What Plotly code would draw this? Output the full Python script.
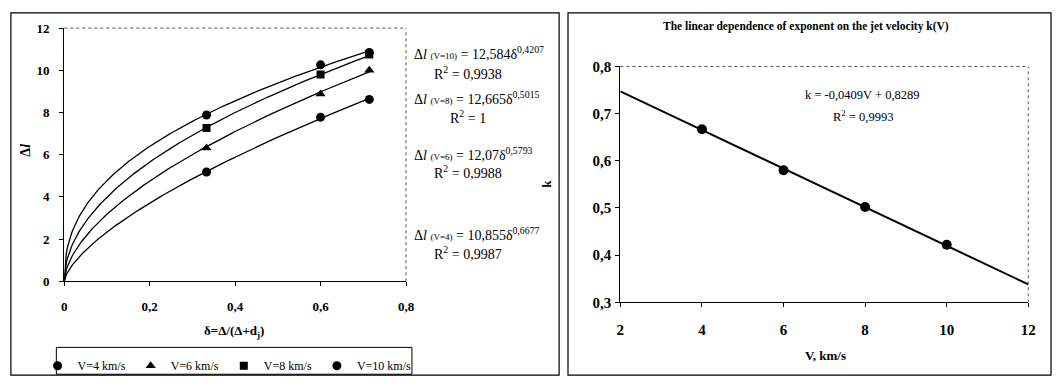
import numpy as np
import plotly.graph_objects as go

# ---------------- data ----------------
delta = [0.333, 0.6, 0.714]
dl_v4 = [5.18, 7.78, 8.62]
dl_v6 = [6.32, 8.88, 10.0]
dl_v8 = [7.27, 9.8, 10.75]
dl_v10 = [7.88, 10.26, 10.85]
series_names = ["V=4 km/s", "V=6 km/s", "V=8 km/s", "V=10 km/s"]
series_symbols = ["circle", "triangle-up", "square", "circle"]
fit_coef = [10.855, 12.07, 12.665, 12.584]
fit_exp = [0.6677, 0.5793, 0.5015, 0.4207]
fit_r2 = ["0,9987", "0,9988", "1", "0,9938"]
fit_labels = ["V=4", "V=6", "V=8", "V=10"]

velocity = [4, 6, 8, 10]
k_values = [0.667, 0.58, 0.502, 0.422]
k_slope = -0.0409
k_intercept = 0.8289
k_r2 = "0,9993"
v_range = [2, 12]

left_xticks = [0, 0.2, 0.4, 0.6, 0.8]
left_yticks = [0, 2, 4, 6, 8, 10, 12]
right_xticks = [2, 4, 6, 8, 10, 12]
right_yticks = [0.3, 0.4, 0.5, 0.6, 0.7, 0.8]

W, H = 1061, 388
FONT = "Liberation Serif"


def px(x):
    return x / W


def py(y):
    return 1 - y / H


fig = go.Figure()

# -------- left panel --------
dl_all = [dl_v4, dl_v6, dl_v8, dl_v10]
xs = np.linspace(0, max(delta), 300)
for i, (name, sym, vals) in enumerate(zip(series_names, series_symbols, dl_all)):
    ys = fit_coef[i] * xs ** fit_exp[i]
    fig.add_trace(go.Scatter(x=xs, y=ys, mode="lines", line=dict(color="black", width=1.3),
                             showlegend=False, hoverinfo="skip", xaxis="x", yaxis="y"))
    fig.add_trace(go.Scatter(x=delta, y=vals, mode="markers", name=name,
                             marker=dict(symbol=sym, size=9 if sym != "square" else 8, color="black"),
                             xaxis="x", yaxis="y"))

# -------- right panel --------
fig.add_trace(go.Scatter(x=v_range, y=[k_slope * v + k_intercept for v in v_range], mode="lines",
                         line=dict(color="black", width=2), showlegend=False, xaxis="x2", yaxis="y2"))
fig.add_trace(go.Scatter(x=velocity, y=k_values, mode="markers",
                         marker=dict(symbol="circle", size=10, color="black"),
                         showlegend=False, xaxis="x2", yaxis="y2"))


def axis_common(size, standoff):
    return dict(showgrid=False, zeroline=False, showline=True, linecolor="black", linewidth=1.3,
                ticks="outside", ticklen=4, tickcolor="black", ticklabelstandoff=standoff,
                tickfont=dict(family=FONT, size=size, color="black", weight="bold"))


fig.update_layout(
    width=W, height=H, margin=dict(l=0, r=0, t=0, b=0),
    paper_bgcolor="white", plot_bgcolor="white",
    separators=", ",
    font=dict(family=FONT, color="black"),
    xaxis=dict(domain=[px(61), px(407)], range=[0, 0.8], tickvals=left_xticks,
               ticktext=[("%g" % t).replace(".", ",") for t in left_xticks], anchor="y",
               **axis_common(13, 9)),
    yaxis=dict(domain=[py(285), py(21)], range=[0, 12], tickvals=left_yticks, anchor="x",
               **axis_common(13, 7)),
    xaxis2=dict(domain=[px(624), px(1037)], range=[2, 12], tickvals=right_xticks, anchor="y2",
                **axis_common(15, 10)),
    yaxis2=dict(domain=[py(307), py(61)], range=[0.3, 0.8], tickvals=right_yticks,
                ticktext=[("%.1f" % t).replace(".", ",") for t in right_yticks], anchor="x2",
                **axis_common(15, 1)),
    legend=dict(orientation="h", x=px(34), y=py(358), xanchor="left", yanchor="top",
                borderwidth=0, bgcolor="rgba(0,0,0,0)",
                font=dict(family=FONT, size=12, color="black"),
                itemwidth=30, tracegroupgap=0),
    showlegend=True,
)

shapes = []
# dotted plot-area borders (top and right)
for xr, yr in [("x domain", "y domain"), ("x2 domain", "y2 domain")]:
    shapes.append(dict(type="line", xref=xr, yref=yr, x0=0, x1=1, y0=1, y1=1,
                       line=dict(color="#555", width=1, dash="dot")))
    shapes.append(dict(type="line", xref=xr, yref=yr, x0=1, x1=1, y0=0, y1=1,
                       line=dict(color="#555", width=1, dash="dot")))
# outer chart frames
shapes.append(dict(type="rect", xref="paper", yref="paper", x0=px(7), x1=px(562), y0=py(383), y1=py(5),
                   line=dict(color="black", width=1.2)))
shapes.append(dict(type="rect", xref="paper", yref="paper", x0=px(571), x1=px(1060), y0=py(383), y1=py(5),
                   line=dict(color="black", width=1.2)))
# legend box
shapes.append(dict(type="rect", xref="paper", yref="paper", x0=px(53), x1=px(413), y0=py(382), y1=py(354),
                   line=dict(color="black", width=1)))
fig.update_layout(shapes=shapes)

ann = []


def text(x, y, s, size=13, xanchor="center", bold=False, angle=0):
    ann.append(dict(x=px(x), y=py(y), xref="paper", yref="paper", text=("<b>%s</b>" % s) if bold else s,
                    showarrow=False, xanchor=xanchor, yanchor="middle", textangle=angle,
                    font=dict(family=FONT, size=size, color="black")))


# left axis titles
text(22, 148, "Δ<i>l</i>", size=14, bold=True, angle=-90)
text(233, 337, "δ=Δ/(Δ+d<sub>j</sub>)", size=13, bold=True)

# fit equations (left)
eq_y = {"V=10": (47, 68), "V=8": (94, 114), "V=6": (152, 171), "V=4": (236, 256)}
for lab, c, e, r2 in zip(fit_labels, fit_coef, fit_exp, fit_r2):
    y1, y2 = eq_y[lab]
    cs = ("%g" % c).replace(".", ",")
    es = ("%g" % e).replace(".", ",")
    text(413, y1, "Δ<i>l</i> <span style='font-size:9px'>(%s)</span> = %sδ<sup>%s</sup>" % (lab, cs, es),
         size=14, xanchor="left")
    text(470, y2, "R<sup>2</sup> = %s" % r2, size=14)

# right panel texts
text(812, 19, "The linear dependence of exponent on the jet velocity k(V)", size=11.5, bold=True)
text(549, 183, "k", size=13, bold=True, angle=-90)
text(832, 362, "V, km/s", size=13, bold=True)
ks = ("%g" % k_slope).replace(".", ",")
ki = ("%g" % k_intercept).replace(".", ",")
text(869, 91, "k = %sV + %s" % (ks, ki), size=12.5)
text(870, 113, "R<sup>2</sup> = %s" % k_r2, size=12.5)

fig.update_layout(annotations=ann)
fig.write_html("out.html")
